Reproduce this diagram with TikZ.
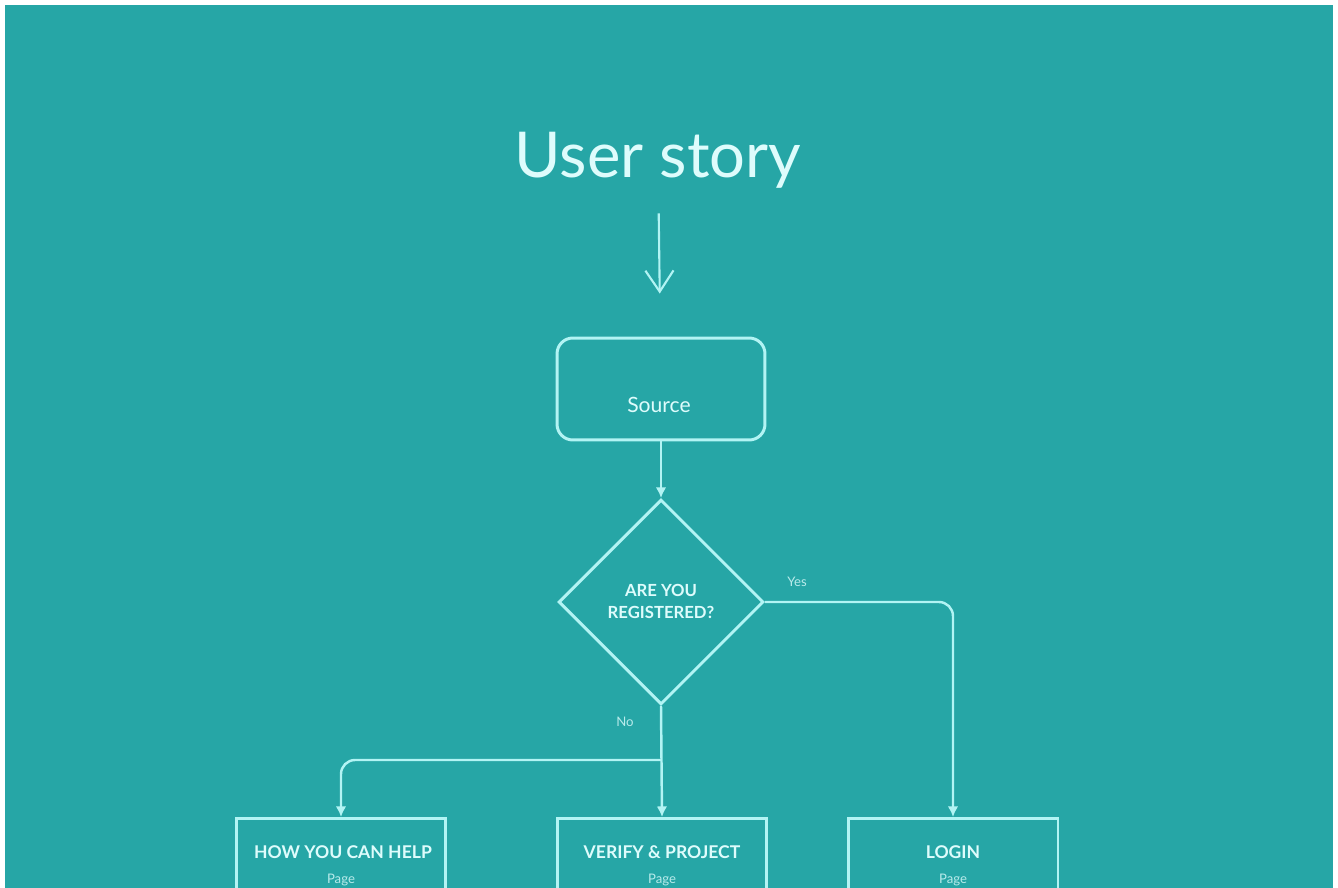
\documentclass[tikz,border=0pt]{standalone}
\usepackage{fontspec}
\setmainfont{Lato}
\usetikzlibrary{shapes.geometric,arrows.meta,calc}
\definecolor{bgteal}{RGB}{38,166,166}
\definecolor{linec}{RGB}{178,244,244}
\definecolor{textc}{RGB}{222,252,252}
\tikzset{
  boxline/.style={draw=linec, line width=1.7pt},
  srcbox/.style={boxline, rectangle, rounded corners=9pt, minimum width=4.16cm, minimum height=2.04cm},
  decision/.style={boxline, diamond, minimum width=4.1cm, minimum height=4.1cm, inner sep=0pt},
  pagebox/.style={boxline, rectangle, minimum width=4.2cm, minimum height=3.2cm, anchor=north},
  smalltxt/.style={text=textc, font=\fontsize{10}{11}\selectfont\bfseries, inner sep=0pt},
  tinytxt/.style={text=textc!80!bgteal, font=\fontsize{7.5}{8}\selectfont, inner sep=0pt},
  conn/.style={draw=linec, line width=1.4pt, -{Latex[length=6pt,width=6pt]}},
}
\begin{document}
\begin{tikzpicture}[x=0.02cm,y=-0.02cm]
\useasboundingbox (0,0) rectangle (1338,888);
\clip (0,0) rectangle (1338,888);
\fill[white] (0,0) rectangle (1338,888);
\fill[bgteal] (5,5) rectangle (1333,900);
% title
\node[text=textc, font=\fontsize{36}{40}\selectfont, inner sep=0pt] (title) at (658,160) {User story};
% source
\node[srcbox] (src) at (661,389) {};
\node[text=textc, font=\fontsize{12}{14}\selectfont, inner sep=0pt] (srct) at (659,405) {Source};
% decision
\node[decision] (dia) at (661,602) {};
\node[smalltxt, align=center, font=\fontsize{9.5}{12.5}\selectfont\bfseries] (diat) at (661,601) {ARE YOU\\REGISTERED?};
% boxes
\node[pagebox] (help) at (341,817) {};
\node[pagebox] (verify) at (662,817) {};
\node[pagebox] (login) at (953,817) {};
\node[smalltxt] (helpt) at (343,852) {HOW YOU CAN HELP};
\node[smalltxt] (verifyt) at (662,852) {VERIFY \& PROJECT};
\node[smalltxt] (logint) at (953,852) {LOGIN};
\node[tinytxt] (helpp) at (341,880) {Page};
\node[tinytxt] (verifyp) at (662,880) {Page};
\node[tinytxt] (loginp) at (953,880) {Page};
% labels
\node[tinytxt] (yes) at (797,582) {Yes};
\node[tinytxt] (no) at (625,722) {No};
% connectors
\draw[draw=linec, line width=1.2pt, -{Straight Barb[length=12pt,width=16pt]}, shorten <=0.5cm, shorten >=0.86cm] (title) -- (src);
\draw[conn] (src) -- (dia);
\draw[conn, rounded corners=8pt] (dia.east) -| (login.north);
\draw[conn] (dia.south) -- (verify.north);
\coordinate (j) at (661,760);
\draw[conn, rounded corners=8pt] (j) -| (help.north);
\end{tikzpicture}
\end{document}
